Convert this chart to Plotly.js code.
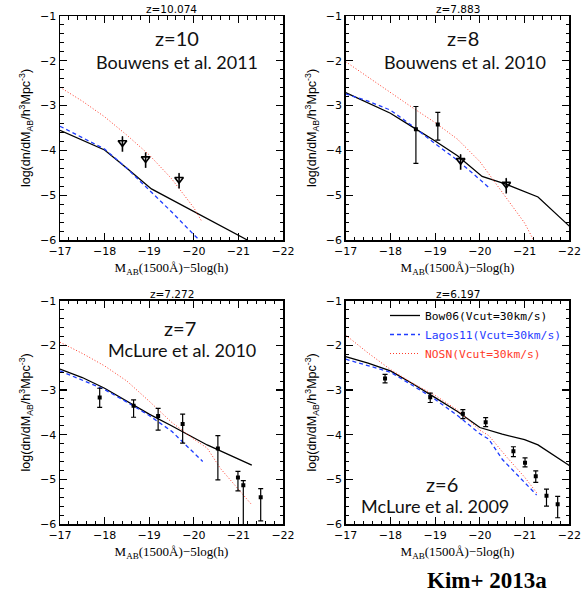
<!DOCTYPE html>
<html>
<head>
<meta charset="utf-8">
<script src="https://cdn.plot.ly/plotly-3.0.1.min.js"></script>
<style>html,body{margin:0;padding:0;background:#fff;}#chart{width:581px;height:596px;}</style>
</head>
<body>
<div id="chart"></div>
<script>
// ---------- data ----------
// z = 10 panel
var bowX10 = [-17, -18, -18.5, -19.05, -21.2];
var bowY10 = [-3.55, -3.99, -4.40, -4.86, -6.0];
var lagX10 = [-17, -18, -18.5, -19, -19.5, -20, -20.12];
var lagY10 = [-3.46, -3.97, -4.40, -4.88, -5.37, -5.88, -6.0];
var nosX10 = [-17, -17.5, -18, -18.5, -19, -19.5, -20, -20.17];
var nosY10 = [-2.59, -2.90, -3.25, -3.66, -4.10, -4.63, -5.28, -5.57];
var ulX10 = [-18.40, -18.92, -19.67];
var ulY10 = [-3.69, -4.05, -4.51];

// z = 8 panel
var bowX8 = [-17, -18, -18.5, -19, -19.5, -20.05, -20.6, -21.3, -22];
var bowY8 = [-2.71, -3.17, -3.48, -3.79, -4.12, -4.58, -4.76, -5.04, -5.69];
var lagX8 = [-17, -17.5, -18, -18.5, -19, -19.5, -20, -20.2];
var lagY8 = [-2.74, -2.90, -3.10, -3.46, -3.85, -4.22, -4.65, -4.83];
var nosX8 = [-17, -17.5, -18, -18.5, -19, -19.5, -20, -20.5, -21, -21.2];
var nosY8 = [-2.02, -2.37, -2.72, -3.05, -3.38, -3.75, -4.25, -4.93, -5.62, -6.0];
var obsX8 = [-18.57, -19.06];
var obsY8 = [-3.53, -3.42];
var obsHi8 = [0.51, 0.27];
var obsLo8 = [0.76, 0.35];
var ulX8 = [-19.57, -20.59];
var ulY8 = [-4.09, -4.62];

// z = 7 panel
var bowX7 = [-17, -17.5, -18, -18.5, -19, -19.5, -20, -20.3, -21.3];
var bowY7 = [-2.53, -2.72, -2.96, -3.25, -3.54, -3.80, -4.06, -4.23, -4.68];
var lagX7 = [-17, -18, -18.5, -19, -19.5, -20, -20.2];
var lagY7 = [-2.57, -2.99, -3.27, -3.57, -3.92, -4.42, -4.60];
var nosX7 = [-17, -17.5, -18, -18.5, -19, -19.5, -20, -20.3, -20.6, -21, -21.3];
var nosY7 = [-1.93, -2.18, -2.46, -2.80, -3.25, -3.72, -4.10, -4.30, -4.76, -5.21, -5.57];
var obsX7 = [-17.89, -18.65, -19.2, -19.75, -20.54, -20.99, -21.11, -21.5];
var obsY7 = [-3.17, -3.35, -3.58, -3.76, -4.31, -4.96, -5.13, -5.40];
var obsHi7 = [0.21, 0.13, 0.17, 0.22, 0.29, 0.14, 0.10, 0.19];
var obsLo7 = [0.22, 0.26, 0.32, 0.43, 0.70, 0.30, 1.2, 0.53];

// z = 6 panel
var bowX6 = [-17, -17.5, -18, -18.5, -19, -19.5, -20, -20.5, -21, -21.3, -22];
var bowY6 = [-2.25, -2.40, -2.57, -2.86, -3.17, -3.48, -3.84, -3.99, -4.11, -4.23, -4.69];
var lagX6 = [-17, -17.5, -18, -18.5, -19, -19.5, -20, -20.2, -20.5, -21, -21.27];
var lagY6 = [-2.31, -2.45, -2.60, -2.90, -3.21, -3.57, -3.98, -4.10, -4.55, -5.07, -5.35];
var nosX6 = [-17, -17.5, -18, -18.5, -19, -19.5, -20, -20.2, -20.6, -21, -21.27];
var nosY6 = [-1.77, -2.17, -2.54, -2.85, -3.12, -3.45, -3.90, -4.02, -4.50, -4.95, -5.30];
var obsX6 = [-17.88, -18.89, -19.62, -20.13, -20.75, -21.01, -21.25, -21.49, -21.74];
var obsY6 = [-2.74, -3.16, -3.53, -3.72, -4.37, -4.63, -4.93, -5.37, -5.56];
var obsHi6 = [0.09, 0.09, 0.09, 0.10, 0.10, 0.11, 0.12, 0.15, 0.18];
var obsLo6 = [0.10, 0.12, 0.11, 0.10, 0.12, 0.09, 0.14, 0.23, 0.30];

// labels
var panelTitles = ['z=10.074', 'z=7.883', 'z=7.272', 'z=6.197'];
var panelZ = ['z=10', 'z=8', 'z=7', 'z=6'];
var panelRefs = ['Bouwens et al. 2011', 'Bouwens et al. 2010', 'McLure et al. 2010', 'McLure et al. 2009'];
var modelNames = ['Bow06(Vcut=30km/s)', 'Lagos11(Vcut=30km/s)', 'NOSN(Vcut=30km/s)'];

// ---------- styles ----------
var BLACK = '#000000', BLUE = '#1f3cff', RED = '#ff3b2a';
var ULEN = 0.34; // length of upper-limit arrows (in dex)

var traces = [];
function models(xa, ya, bx, by, lx, ly, nx, ny, showLeg) {
  traces.push({x: bx, y: by, xaxis: xa, yaxis: ya, mode: 'lines', type: 'scatter',
    name: '<span style="color:' + BLACK + '">' + modelNames[0] + '</span>', showlegend: showLeg,
    line: {color: BLACK, width: 1.3}});
  traces.push({x: lx, y: ly, xaxis: xa, yaxis: ya, mode: 'lines', type: 'scatter',
    name: '<span style="color:' + BLUE + '">' + modelNames[1] + '</span>', showlegend: showLeg,
    line: {color: BLUE, width: 1.3, dash: '4px,3px'}});
  traces.push({x: nx, y: ny, xaxis: xa, yaxis: ya, mode: 'lines', type: 'scatter',
    name: '<span style="color:' + RED + '">' + modelNames[2] + '</span>', showlegend: showLeg,
    line: {color: RED, width: 1, dash: '1px,2px'}});
}
function obs(xa, ya, ox, oy, hi, lo) {
  traces.push({x: ox, y: oy, xaxis: xa, yaxis: ya, mode: 'markers', type: 'scatter', showlegend: false,
    marker: {color: BLACK, size: 4, symbol: 'square'},
    error_y: {type: 'data', symmetric: false, array: hi, arrayminus: lo, color: BLACK, thickness: 1.2, width: 2.5}});
}
function upperLimits(xa, ya, ux, uy) {
  var zeros = ux.map(function () { return 0; });
  var lens = ux.map(function () { return ULEN; });
  traces.push({x: ux, y: uy, xaxis: xa, yaxis: ya, mode: 'markers', type: 'scatter', showlegend: false,
    marker: {size: 1, color: BLACK},
    error_y: {type: 'data', symmetric: false, array: zeros, arrayminus: lens, color: BLACK, thickness: 1.6, width: 0}});
  traces.push({x: ux, y: uy.map(function (v) { return v - ULEN * 0.4; }), xaxis: xa, yaxis: ya,
    mode: 'markers', type: 'scatter', showlegend: false,
    marker: {symbol: 'triangle-down-open', size: 7.5, color: BLACK, line: {width: 1.6, color: BLACK}}});
}

models('x', 'y', bowX10, bowY10, lagX10, lagY10, nosX10, nosY10, false);
upperLimits('x', 'y', ulX10, ulY10);
models('x2', 'y2', bowX8, bowY8, lagX8, lagY8, nosX8, nosY8, false);
obs('x2', 'y2', obsX8, obsY8, obsHi8, obsLo8);
upperLimits('x2', 'y2', ulX8, ulY8);
models('x3', 'y3', bowX7, bowY7, lagX7, lagY7, nosX7, nosY7, false);
obs('x3', 'y3', obsX7, obsY7, obsHi7, obsLo7);
models('x4', 'y4', bowX6, bowY6, lagX6, lagY6, nosX6, nosY6, true);
obs('x4', 'y4', obsX6, obsY6, obsHi6, obsLo6);

// ---------- layout ----------
var W = 581, H = 596;
var colDom = [[60 / W, 283 / W], [345.7 / W, 569.3 / W]];
var rowDom = [[(H - 240) / H, (H - 16) / H], [(H - 524) / H, (H - 300.7) / H]];
var tickFont = {family: 'DejaVu Sans', size: 11, color: '#000'};
var minorX = {dtick: 0.2, ticks: 'inside', ticklen: 3.5, tickwidth: 1, tickcolor: '#000', showgrid: false};

function xAxis(dom, anchor) {
  return {domain: dom, anchor: anchor, range: [-17, -22], dtick: 1, tick0: -17,
    ticks: 'inside', ticklen: 7, tickwidth: 1.2, tickcolor: '#000', mirror: true,
    showline: true, linewidth: 1.5, linecolor: '#000', showgrid: false, zeroline: false,
    tickfont: tickFont, fixedrange: true, minor: minorX,
    title: {text: 'M<sub>AB</sub>(1500Å)−5log(h)', font: {family: 'Liberation Serif', size: 13, color: '#000'}, standoff: 6}};
}
function yAxis(dom, anchor) {
  return {domain: dom, anchor: anchor, range: [-6, -1], dtick: 1, tick0: -6,
    ticks: 'inside', ticklen: 7, tickwidth: 1.2, tickcolor: '#000', mirror: true,
    showline: true, linewidth: 1.5, linecolor: '#000', showgrid: false, zeroline: false,
    tickfont: tickFont, fixedrange: true, minor: minorX,
    title: {text: 'log(dn/dM<sub>AB</sub>/h<sup>3</sup>Mpc<sup>-3</sup>)', font: {family: 'Liberation Sans', size: 12.5, color: '#000'}, standoff: 6}};
}
// tick-only companion axes (top / right) so minor ticks appear on all four sides
function xTop(base, anchor) {
  return {overlaying: base, anchor: anchor, side: 'top', range: [-17, -22], dtick: 1, tick0: -17,
    ticks: 'inside', ticklen: 7, tickwidth: 1.2, tickcolor: '#000', showticklabels: false,
    showline: false, showgrid: false, zeroline: false, fixedrange: true, minor: minorX};
}
function yRight(base, anchor) {
  return {overlaying: base, anchor: anchor, side: 'right', range: [-6, -1], dtick: 1, tick0: -6,
    ticks: 'inside', ticklen: 7, tickwidth: 1.2, tickcolor: '#000', showticklabels: false,
    showline: false, showgrid: false, zeroline: false, fixedrange: true, minor: minorX};
}
// empty helper traces that register the companion axes
[['x5', 'y'], ['x', 'y5'], ['x6', 'y2'], ['x2', 'y6'], ['x7', 'y3'], ['x3', 'y7'], ['x8', 'y4'], ['x4', 'y8']].forEach(function (p) {
  traces.push({x: [null], y: [null], xaxis: p[0], yaxis: p[1], type: 'scatter', mode: 'markers',
    showlegend: false, hoverinfo: 'skip'});
});

var annotations = [];
var cells = [[0, 0], [1, 0], [0, 1], [1, 1]]; // [col,row]
var zPos = [[177, 38, 177, 62], [463, 38, 465, 62], [180, 328, 182, 350], [442, 484, 435, 506]];
cells.forEach(function (c, i) {
  var cx = (colDom[c[0]][0] + colDom[c[0]][1]) / 2;
  var top = rowDom[c[1]][1];
  annotations.push({text: panelTitles[i], xref: 'paper', yref: 'paper', x: cx, y: top + 7 / H,
    xanchor: 'center', yanchor: 'middle', showarrow: false, font: {family: 'DejaVu Sans', size: 10.5, color: '#000'}});
  annotations.push({text: panelZ[i], xref: 'paper', yref: 'paper', x: zPos[i][0] / W, y: 1 - zPos[i][1] / H,
    xanchor: 'center', yanchor: 'middle', showarrow: false, font: {family: 'Lato', size: 20, color: '#111'}});
  annotations.push({text: panelRefs[i], xref: 'paper', yref: 'paper', x: zPos[i][2] / W, y: 1 - zPos[i][3] / H,
    xanchor: 'center', yanchor: 'middle', showarrow: false, font: {family: 'Lato', size: 18, color: '#111'}});
});
annotations.push({text: '<b>Kim+ 2013a</b>', xref: 'paper', yref: 'paper', x: 487 / W, y: 1 - 580 / H,
  xanchor: 'center', yanchor: 'middle', showarrow: false, font: {family: 'Liberation Serif', size: 23, color: '#000'}});

var layout = {
  width: W, height: H, margin: {l: 0, r: 0, t: 0, b: 0},
  paper_bgcolor: '#fff', plot_bgcolor: '#fff',
  xaxis: xAxis(colDom[0], 'y'), yaxis: yAxis(rowDom[0], 'x'),
  xaxis2: xAxis(colDom[1], 'y2'), yaxis2: yAxis(rowDom[0], 'x2'),
  xaxis3: xAxis(colDom[0], 'y3'), yaxis3: yAxis(rowDom[1], 'x3'),
  xaxis4: xAxis(colDom[1], 'y4'), yaxis4: yAxis(rowDom[1], 'x4'),
  xaxis5: xTop('x', 'y'), yaxis5: yRight('y', 'x'),
  xaxis6: xTop('x2', 'y2'), yaxis6: yRight('y2', 'x2'),
  xaxis7: xTop('x3', 'y3'), yaxis7: yRight('y3', 'x3'),
  xaxis8: xTop('x4', 'y4'), yaxis8: yRight('y4', 'x4'),
  showlegend: true,
  legend: {x: 385 / W, y: 1 - 301 / H, xanchor: 'left', yanchor: 'top', bgcolor: 'rgba(0,0,0,0)',
    font: {family: 'DejaVu Sans Mono', size: 11.3, color: '#000'}, tracegroupgap: 0, itemwidth: 30},
  annotations: annotations
};

Plotly.newPlot('chart', traces, layout, {displayModeBar: false, staticPlot: true});
</script>
</body>
</html>
